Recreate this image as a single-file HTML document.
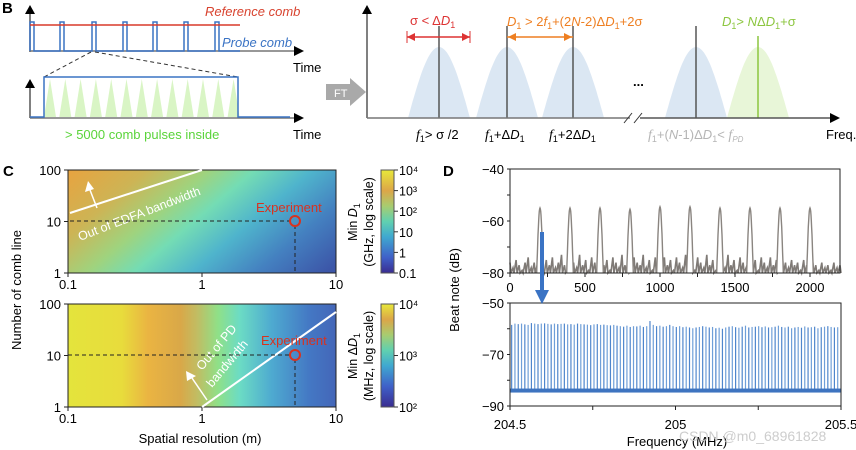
<!DOCTYPE html>
<html><head><meta charset="utf-8"><style>
body{margin:0;background:#fff}
svg{display:block;font-family:"Liberation Sans",sans-serif}
</style></head><body>
<svg id="fig" width="856" height="450" viewBox="0 0 856 450">
<defs>
<linearGradient id="gTop" gradientUnits="userSpaceOnUse" x1="110" y1="130" x2="270" y2="320">
<stop offset="0" stop-color="#eaa23e"/><stop offset="0.22" stop-color="#cdb455"/><stop offset="0.38" stop-color="#9fd37e"/><stop offset="0.5" stop-color="#74dcb4"/><stop offset="0.65" stop-color="#4fb4cc"/><stop offset="0.82" stop-color="#4480c0"/><stop offset="1" stop-color="#3c56a8"/></linearGradient>
<linearGradient id="gBot" x1="0" y1="0" x2="1" y2="0">
<stop offset="0" stop-color="#e4e43c"/><stop offset="0.2" stop-color="#e8dc3c"/><stop offset="0.3" stop-color="#eab442"/><stop offset="0.42" stop-color="#d9a848"/><stop offset="0.48" stop-color="#c2bc62"/><stop offset="0.56" stop-color="#8fe088"/><stop offset="0.64" stop-color="#6cdcc4"/><stop offset="0.76" stop-color="#4eaad0"/><stop offset="0.9" stop-color="#4478c4"/><stop offset="1" stop-color="#4466b8"/></linearGradient>
<linearGradient id="gCb" x1="0" y1="1" x2="0" y2="0">
<stop offset="0" stop-color="#3a2c90"/><stop offset="0.15" stop-color="#3f60c8"/><stop offset="0.35" stop-color="#3fa8d0"/><stop offset="0.5" stop-color="#60d0b0"/><stop offset="0.65" stop-color="#a8cc70"/><stop offset="0.8" stop-color="#dca648"/><stop offset="1" stop-color="#e8e83a"/></linearGradient>
<linearGradient id="gCb2" x1="0" y1="1" x2="0" y2="0">
<stop offset="0" stop-color="#3a2c90"/><stop offset="0.2" stop-color="#3f60c8"/><stop offset="0.4" stop-color="#3fa8d0"/><stop offset="0.55" stop-color="#60d0b0"/><stop offset="0.7" stop-color="#a8cc70"/><stop offset="0.85" stop-color="#dca648"/><stop offset="1" stop-color="#e8e83a"/></linearGradient>
</defs>

<!-- ============ Panel B ============ -->
<g>
<text x="2" y="13" font-size="15" font-weight="bold">B</text>
<g>
<line x1="30" y1="52" x2="30" y2="12" stroke="#555" stroke-width="1.5"/>
<polygon points="25,14 35,14 30,5" fill="#000"/>
<line x1="30" y1="51" x2="296" y2="51" stroke="#777" stroke-width="1.5"/>
<polygon points="294,46 294,56 304,51" fill="#000"/>
<path id="probe" d="" fill="none" stroke="#3a73c4" stroke-width="1.5"/>
<line x1="30" y1="25" x2="240" y2="25" stroke="#d83a2a" stroke-width="1.5"/>
<text x="205" y="16" font-size="13" font-style="italic" fill="#d8432f">Reference comb</text>
<text x="222" y="47" font-size="13" font-style="italic" fill="#3a73c4">Probe comb</text>
<text x="293" y="72" font-size="13">Time</text>
</g>
<line x1="91" y1="52" x2="44" y2="77" stroke="#333" stroke-dasharray="4,3"/>
<line x1="95" y1="52" x2="238" y2="77" stroke="#333" stroke-dasharray="4,3"/>
<g>
<line x1="30" y1="118" x2="30" y2="86" stroke="#555" stroke-width="1.5"/>
<polygon points="25,88 35,88 30,79" fill="#000"/>
<g id="tri"></g>
<line x1="30" y1="118" x2="296" y2="118" stroke="#777" stroke-width="1.5"/>
<polygon points="294,113 294,123 304,118" fill="#000"/>
<path d="M30,117 H44 V77 H238 V117 H290" fill="none" stroke="#3a73c4" stroke-width="1.5"/>
<text x="65" y="139" font-size="13" fill="#5ad43a">&gt; 5000 comb pulses inside</text>
<text x="293" y="139" font-size="13">Time</text>
</g>
<g>
<polygon points="326,84 350,84 350,78 366,92 350,106 350,100 326,100" fill="#a9a9a9"/>
<text x="334" y="97" font-size="11" fill="#fff">FT</text>
</g>
<g>
<g id="bells"></g>
<line x1="367" y1="118" x2="367" y2="12" stroke="#555" stroke-width="1.5"/>
<polygon points="362,14 372,14 367,5" fill="#000"/>
<line x1="367" y1="118" x2="630" y2="118" stroke="#777" stroke-width="1.5"/>
<line x1="640" y1="118" x2="832" y2="118" stroke="#555" stroke-width="1.5"/>
<polygon points="830,113 830,123 840,118" fill="#000"/>
<line x1="624" y1="123" x2="632" y2="113" stroke="#333"/><line x1="634" y1="123" x2="642" y2="113" stroke="#333"/>
<text x="633" y="86" font-size="13" font-weight="bold">...</text>
<line x1="407" y1="31" x2="407" y2="43" stroke="#d33"/><line x1="470" y1="31" x2="470" y2="43" stroke="#d33"/>
<line x1="407" y1="37" x2="470" y2="37" stroke="#d33" stroke-width="1.5"/>
<polygon points="407,37 415,33 415,41" fill="#d33"/><polygon points="470,37 462,33 462,41" fill="#d33"/>
<text x="410" y="25" font-size="13" fill="#d33">σ &lt; Δ<tspan font-style="italic">D</tspan><tspan font-size="9" dy="3">1</tspan></text>
<line x1="507" y1="37" x2="573" y2="37" stroke="#ee7f22" stroke-width="1.5"/>
<polygon points="508,37 516,33 516,41" fill="#ee7f22"/><polygon points="572,37 564,33 564,41" fill="#ee7f22"/>
<text x="507" y="26" font-size="13" fill="#ee7f22"><tspan font-style="italic">D</tspan><tspan font-size="9" dy="3">1</tspan><tspan dy="-3"> &gt; 2</tspan><tspan font-style="italic">f</tspan><tspan font-size="9" dy="3">1</tspan><tspan dy="-3">+(2</tspan><tspan font-style="italic">N</tspan>-2)Δ<tspan font-style="italic">D</tspan><tspan font-size="9" dy="3">1</tspan><tspan dy="-3">+2σ</tspan></text>
<text x="722" y="26" font-size="13" fill="#8cc63f"><tspan font-style="italic">D</tspan><tspan font-size="9" dy="3">1</tspan><tspan dy="-3">&gt; </tspan><tspan font-style="italic">N</tspan>Δ<tspan font-style="italic">D</tspan><tspan font-size="9" dy="3">1</tspan><tspan dy="-3">+σ</tspan></text>
<text x="416" y="139" font-size="13"><tspan font-style="italic" font-family="Liberation Serif" font-size="14">f</tspan><tspan font-size="9" dy="3">1</tspan><tspan dy="-3">&gt; σ /2</tspan></text>
<text x="485" y="139" font-size="13"><tspan font-style="italic" font-family="Liberation Serif" font-size="14">f</tspan><tspan font-size="9" dy="3">1</tspan><tspan dy="-3">+Δ</tspan><tspan font-style="italic">D</tspan><tspan font-size="9" dy="3">1</tspan></text>
<text x="549" y="139" font-size="13"><tspan font-style="italic" font-family="Liberation Serif" font-size="14">f</tspan><tspan font-size="9" dy="3">1</tspan><tspan dy="-3">+2Δ</tspan><tspan font-style="italic">D</tspan><tspan font-size="9" dy="3">1</tspan></text>
<text x="648" y="139" font-size="13" fill="#b5b5b5"><tspan font-style="italic" font-family="Liberation Serif" font-size="14">f</tspan><tspan font-size="9" dy="3">1</tspan><tspan dy="-3">+(</tspan><tspan font-style="italic">N</tspan>-1)Δ<tspan font-style="italic">D</tspan><tspan font-size="9" dy="3">1</tspan><tspan dy="-3">&lt; </tspan><tspan font-style="italic" font-family="Liberation Serif" font-size="14">f</tspan><tspan font-size="8" dy="3" font-style="italic">PD</tspan></text>
<text x="826" y="139" font-size="13">Freq.</text>
</g>
</g>

<!-- ============ Panel C ============ -->
<g>
<text x="3" y="176" font-size="15" font-weight="bold">C</text>
<rect x="68" y="170" width="268" height="103" fill="url(#gTop)" stroke="#222"/>
<rect x="68" y="304" width="268" height="103" fill="url(#gBot)" stroke="#222"/>
<g id="cAxes"></g>
<line x1="70" y1="213" x2="202" y2="170" stroke="#fff" stroke-width="2"/>
<line x1="97" y1="208" x2="90" y2="190" stroke="#fff" stroke-width="1.5"/><polygon points="85,192 94,189 88,181" fill="#fff"/>
<text transform="translate(80,241) rotate(-21)" font-size="12.5" fill="#fff">Out of EDFA bandwidth</text>
<line x1="202" y1="407" x2="336" y2="312" stroke="#fff" stroke-width="2"/>
<line x1="207" y1="400" x2="192" y2="378" stroke="#fff" stroke-width="1.5"/><polygon points="187,381 196,376 186,371" fill="#fff"/>
<text transform="translate(202,371) rotate(-50)" font-size="12.5" fill="#fff">Out of PD</text>
<text transform="translate(212,388) rotate(-50)" font-size="12.5" fill="#fff">bandwidth</text>
<path d="M70,221 H291 M295,225 V273" stroke="#222" stroke-dasharray="4,3" fill="none"/>
<path d="M68,355 H291 M295,359 V407" stroke="#222" stroke-dasharray="4,3" fill="none"/>
<circle cx="295" cy="221" r="5" fill="none" stroke="#d8321f" stroke-width="2"/>
<circle cx="295" cy="355" r="5" fill="none" stroke="#d8321f" stroke-width="2"/>
<text x="256" y="212" font-size="13" fill="#d8321f">Experiment</text>
<text x="261" y="345" font-size="13" fill="#d8321f">Experiment</text>
<text transform="translate(21,290) rotate(-90)" text-anchor="middle" font-size="13">Number of comb line</text>
<text x="200" y="443" text-anchor="middle" font-size="13">Spatial resolution (m)</text>
<rect x="381" y="170" width="13" height="103" fill="url(#gCb)" stroke="#555"/>
<rect x="381" y="304" width="13" height="103" fill="url(#gCb2)" stroke="#555"/>
<g id="cbTicks"></g>
<text transform="translate(357,222) rotate(-90)" text-anchor="middle" font-size="12.5">Min <tspan font-style="italic">D</tspan><tspan font-size="9" dy="3">1</tspan></text>
<text transform="translate(373,222) rotate(-90)" text-anchor="middle" font-size="12.5">(GHz, log scale)</text>
<text transform="translate(357,356) rotate(-90)" text-anchor="middle" font-size="12.5">Min Δ<tspan font-style="italic">D</tspan><tspan font-size="9" dy="3">1</tspan></text>
<text transform="translate(373,356) rotate(-90)" text-anchor="middle" font-size="12.5">(MHz, log scale)</text>
</g>

<!-- ============ Panel D ============ -->
<g>
<text x="443" y="176" font-size="15" font-weight="bold">D</text>
<g id="dTopG"></g>
<g id="dBotG"></g>
<line x1="542" y1="232" x2="542" y2="292" stroke="#3a73c4" stroke-width="4"/>
<polygon points="535,290 549,290 542,304" fill="#3a73c4"/>
<text transform="translate(459,290) rotate(-90)" text-anchor="middle" font-size="13">Beat note (dB)</text>
<text x="677" y="446" text-anchor="middle" font-size="13">Frequency (MHz)</text>
<text x="679" y="441" font-size="14" fill="#c8c8c8" opacity="0.9">CSDN @m0_68961828</text>
</g>
</svg>
<script>
const NS="http://www.w3.org/2000/svg";
function mk(tag,attrs,parent,txt){const e=document.createElementNS(NS,tag);for(const k in attrs)e.setAttribute(k,attrs[k]);if(txt!==undefined)e.textContent=txt;parent.appendChild(e);return e;}

// ---- Panel B schematic ----
const probePulseX=[30,60,92,123,153,184,215];
let pd="M30,51";
probePulseX.forEach(x=>{pd+=` H${x} V22 H${x+4} V51`;});
pd+=" H240";
document.getElementById('probe').setAttribute('d',pd);
const triG=document.getElementById('tri');
for(let i=0;i<13;i++){const cx=50+i*15.3;const t=mk('polygon',{points:`${cx-6},117 ${cx+6},117 ${cx},79`,fill:'#d9f5c5'},triG);

}
const bellCenters=[439,507,573,696];
const bellsG=document.getElementById('bells');
function bell(cx,col,parent){let p=`M${cx-31},118`;for(let i=0;i<=40;i++){const u=-1+i/20;p+=` L${(cx+u*31).toFixed(1)},${(118-71*Math.cos(u*Math.PI/2)).toFixed(1)}`;}return mk('path',{d:p+' Z',fill:col},parent);}
bellCenters.forEach(c=>{const b=bell(c,'#dbe7f3',bellsG);


mk('line',{x1:c,y1:26,x2:c,y2:118,stroke:'#555','stroke-width':1.5},bellsG);});
const gb=bell(758,'#e8f6d8',bellsG);


mk('line',{x1:758,y1:36,x2:758,y2:118,stroke:'#8cc63f','stroke-width':1.5},bellsG);

// ---- Panel C axes ----
const cXTicks=[0.1,1,10];
const cXTickLabels=["0.1","1","10"];
const cYTicks=[1,10,100];
const cYTickLabels=["1","10","100"];
const cX=v=>68+(Math.log10(v)+1)/2*268;
const cAx=document.getElementById('cAxes');
[[170,273,289],[304,407,423]].forEach(([t,b,ly])=>{
 const cY=v=>b-Math.log10(v)/2*(b-t);
 cXTicks.forEach((v,i)=>{mk('line',{x1:cX(v),y1:b,x2:cX(v),y2:b+4,stroke:'#222'},cAx);
  const lb=mk('text',{x:cX(v),y:ly,'text-anchor':'middle','font-size':13},cAx,cXTickLabels[i]);
  
  });
 cYTicks.forEach((v,i)=>{mk('line',{x1:64,y1:cY(v),x2:68,y2:cY(v),stroke:'#222'},cAx);
  const lb=mk('text',{x:61,y:cY(v)+5,'text-anchor':'end','font-size':13},cAx,cYTickLabels[i]);
  
  });
});
const cbTopExp=["10⁴","10³","10²","10","1","0.1"];
const cbBotExp=["10⁴","10³","10²"];
const cbG=document.getElementById('cbTicks');
cbTopExp.forEach((s,i)=>{const y=170+i*103/5;mk('line',{x1:394,y1:y,x2:398,y2:y,stroke:'#333'},cbG);mk('text',{x:399,y:y+5,'font-size':12.5},cbG,s);});
cbBotExp.forEach((s,i)=>{const y=304+i*103/2;mk('line',{x1:394,y1:y,x2:398,y2:y,stroke:'#333'},cbG);mk('text',{x:399,y:y+5,'font-size':12.5},cbG,s);});

// ---- Panel D top (beat note 0-2200 MHz) ----
const topPeakFreqs=[200,400,600,800,1000,1200,1400,1600,1800,2000];
const topPeakDb=[-55,-55,-55,-55.5,-54.5,-54.5,-55,-55,-55,-55];
const topNoiseDb=[-76,-78,-75,-77,-79,-76,-74,-78,-76,-77,-73,-79,-75,-77,-74,-78,-76,-73,-77,-79,-74,-76,-78,-73,-77,-75,-79,-74,-76,-78,-73,-77,-75,-79,-74,-76,-78,-73,-77,-75,-79,-74,-76,-77,-73,-78,-75,-79,-74,-76,-78,-74,-77,-75,-79,-74,-76,-78,-73,-77,-75,-79,-74,-76,-78,-73,-77,-75,-79,-74,-76,-78,-73,-77,-75,-79,-74,-76,-78,-73,-77,-75,-79,-74,-76,-78,-74,-77,-75,-79,-74,-76,-78,-75,-77,-76,-79,-75,-77,-78,-76,-77,-79,-76,-78,-77,-79,-76,-78,-77];
const topYTicks=[-40,-60,-80];
const topXTicks=[0,500,1000,1500,2000];
const tX=f=>510+f/2200*330;
const tY=v=>169+(-40-v)/40*104;
const gT=document.getElementById('dTopG');
let np="";
topNoiseDb.forEach((v,i)=>{const f=i*2200/(topNoiseDb.length-1);np+=(i?" L":"M")+tX(f).toFixed(1)+","+tY(v).toFixed(1)+" L"+(tX(f)+1).toFixed(1)+","+tY(-80).toFixed(1);});
const nz=mk('path',{d:np,fill:'none',stroke:'#7f7a76','stroke-width':1.6},gT);


topPeakFreqs.forEach((f,i)=>{let p="";for(let k=0;k<=20;k++){const u=-1+k/10;const v=-80+(topPeakDb[i]+80)*Math.cos(u*Math.PI/2);p+=(k?" L":"M")+tX(f+u*22).toFixed(1)+","+tY(v).toFixed(1);}
 const pk=mk('path',{d:p,fill:'#fff',stroke:'#8a8580','stroke-width':1.4},gT);
 
 });
mk('rect',{x:510,y:169,width:330,height:104,fill:'none',stroke:'#222'},gT);
[-40,-50,-60,-70,-80].forEach(v=>mk('line',{x1:507,y1:tY(v),x2:510,y2:tY(v),stroke:'#222'},gT));
topYTicks.forEach(v=>mk('text',{x:504,y:tY(v)+5,'text-anchor':'end','font-size':13},gT,"−"+Math.abs(v)));
[0,250,500,750,1000,1250,1500,1750,2000].forEach(f=>mk('line',{x1:tX(f),y1:273,x2:tX(f),y2:277,stroke:'#222'},gT));
topXTicks.forEach(f=>mk('text',{x:tX(f),y:292,'text-anchor':'middle','font-size':13},gT,String(f)));

// ---- Panel D bottom (zoom 204.5-205.5 MHz) ----
const botPeakDb=[-58.5,-58,-58.2,-58,-58.3,-58.5,-57.8,-58,-58.2,-58,-57.9,-58.1,-58.3,-58,-58.2,-58.1,-58,-58.3,-58.2,-58.4,-58,-58.2,-58.3,-58.4,-58.6,-58.3,-58.2,-58.5,-58.4,-58.6,-58.7,-58.5,-58.8,-59,-59.2,-58.8,-59.3,-59,-59.1,-58.8,-59.3,-59,-57,-58.5,-59,-58.8,-59.2,-59,-58.5,-59,-59.3,-59,-59.4,-59.2,-59.5,-59.8,-59.5,-59.3,-59,-59.2,-59.5,-59.3,-59.8,-59.6,-60,-59.5,-59.2,-59,-59.4,-59.6,-59.2,-58.8,-59.5,-59.3,-59.2,-59,-59.4,-59.1,-59.5,-59.4,-59.2,-58.8,-59.3,-59.5,-59.2,-59.8,-59.5,-59.3,-59.6,-59.1,-59.5,-59.4,-59.2,-59.8,-59.4,-59.2,-59,-59.3,-59.5,-59.4];
const botBaseDb=-84;
const botYTicks=[-50,-70,-90];
const botXTicks=[204.5,205,205.5];
const bX=f=>510+(f-204.5)*331;
const bY=v=>303+(-50-v)/40*103;
const gB=document.getElementById('dBotG');
botPeakDb.forEach((v,i)=>{const f=204.505+i*0.00995;
 const ln=mk('line',{x1:bX(f),y1:bY(botBaseDb),x2:bX(f),y2:bY(v),stroke:i%2?'#6f9fd8':'#4f86cc','stroke-width':1.2},gB);
 
 });
const base=mk('rect',{x:510,y:bY(botBaseDb)-2,width:331,height:4,fill:'#3e74c0'},gB);


mk('rect',{x:510,y:303,width:331,height:103,fill:'none',stroke:'#222'},gB);
[-50,-60,-70,-80,-90].forEach(v=>mk('line',{x1:507,y1:bY(v),x2:510,y2:bY(v),stroke:'#222'},gB));
botYTicks.forEach(v=>mk('text',{x:504,y:bY(v)+5,'text-anchor':'end','font-size':13},gB,"−"+Math.abs(v)));
[204.5,204.75,205,205.25,205.5].forEach(f=>mk('line',{x1:bX(f),y1:406,x2:bX(f),y2:410,stroke:'#222'},gB));
botXTicks.forEach(f=>mk('text',{x:bX(f),y:429,'text-anchor':'middle','font-size':13},gB,String(f)));
</script>
</body></html>
